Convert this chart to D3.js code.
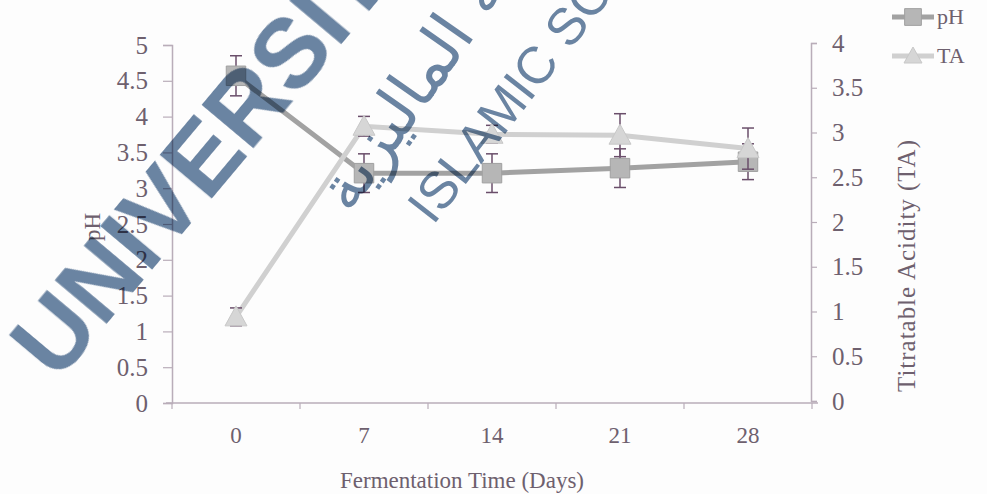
<!DOCTYPE html>
<html>
<head>
<meta charset="utf-8">
<script src="https://cdn.jsdelivr.net/npm/d3@7"></script>
<style>
  html, body { margin: 0; padding: 0; background: #fdfdfd; }
  svg { display: block; }
</style>
</head>
<body>
<svg id="chart" width="987" height="494"></svg>
<script>
// ---- data ----
const days = ["0", "7", "14", "21", "28"];
const pHValues = [4.57, 3.21, 3.21, 3.28, 3.37];
const pHErrors = [0.28, 0.27, 0.27, 0.27, 0.25];
const taValues = [0.94, 3.07, 2.98, 2.97, 2.82];
const taErrors = [0.10, 0.11, 0.10, 0.24, 0.23];
const leftTicks = [0, 0.5, 1, 1.5, 2, 2.5, 3, 3.5, 4, 4.5, 5];
const rightTicks = [0, 0.5, 1, 1.5, 2, 2.5, 3, 3.5, 4];
const seriesNames = ["pH", "TA"];

const svg = d3.select("#chart");
const W = 987, H = 494;
svg.append("rect").attr("width", W).attr("height", H).attr("fill", "#fdfdfd");

const serif = "'Liberation Serif', 'Times New Roman', serif";
const axisColor = "#b9adb9";
const labelColor = "#6e606e";
const errColor = "#6a4e6a";

const x = d3.scaleBand().domain(days).range([172, 812]);
const yL = d3.scaleLinear().domain([0, 5]).range([403, 45]);
const yR = d3.scaleLinear().domain([0, 4]).range([401, 43]);

// ---- axes ----
const gx = svg.append("g").attr("transform", "translate(0,403)")
  .call(d3.axisBottom(x).tickSize(0).tickPadding(0));
gx.select(".domain").remove();
gx.selectAll(".tick text").attr("y", 24).attr("font-family", serif)
  .attr("font-size", 23).attr("fill", labelColor);
svg.append("line").attr("x1", 166).attr("x2", 818).attr("y1", 403).attr("y2", 403)
  .attr("stroke", axisColor).attr("stroke-width", 1.5);
const bounds = days.map(d => x(d)).concat([x.range()[1]]);
svg.selectAll(".xtick").data(bounds).join("line")
  .attr("x1", d => d).attr("x2", d => d).attr("y1", 403).attr("y2", 409)
  .attr("stroke", axisColor).attr("stroke-width", 1.2);

const gl = svg.append("g").attr("transform", "translate(172,0)")
  .call(d3.axisLeft(yL).tickValues(leftTicks).tickSize(9).tickPadding(15).tickFormat(d3.format("")));
gl.select(".domain").attr("stroke", axisColor).attr("stroke-width", 1.5);
gl.selectAll(".tick line").attr("stroke", axisColor).attr("stroke-width", 1.2);
gl.selectAll(".tick text").attr("font-family", serif).attr("font-size", 25).attr("fill", labelColor);

const gr = svg.append("g").attr("transform", "translate(811,0)")
  .call(d3.axisRight(yR).tickValues(rightTicks).tickSize(6).tickPadding(15).tickFormat(d3.format("")));
gr.select(".domain").attr("stroke", axisColor).attr("stroke-width", 1.5);
gr.selectAll(".tick line").attr("stroke", axisColor).attr("stroke-width", 1.2);
gr.selectAll(".tick text").attr("font-family", serif).attr("font-size", 25).attr("fill", labelColor);

// ---- titles ----
svg.append("text").attr("x", 462).attr("y", 488).attr("text-anchor", "middle")
  .attr("font-family", serif).attr("font-size", 23).attr("fill", labelColor)
  .text("Fermentation Time (Days)");
svg.append("text").attr("transform", "translate(100,227) rotate(-90)").attr("text-anchor", "middle")
  .attr("font-family", serif).attr("font-size", 23).attr("fill", labelColor).text("pH");
svg.append("text").attr("transform", "translate(915,266) rotate(-90)").attr("text-anchor", "middle")
  .attr("font-family", serif).attr("font-size", 25).attr("fill", labelColor)
  .attr("textLength", 252).attr("lengthAdjust", "spacing")
  .text("Titratable Acidity (TA)");

// ---- series ----
const cx = d => x(d) + x.bandwidth() / 2;
const pHData = days.map((d, i) => ({ d, v: pHValues[i], e: pHErrors[i] }));
const taData = days.map((d, i) => ({ d, v: taValues[i], e: taErrors[i] }));

function drawSeries(data, y, lineColor, markerFill, markerStroke, shape) {
  const g = svg.append("g");
  g.append("path").datum(data)
    .attr("d", d3.line().x(p => cx(p.d)).y(p => y(p.v)))
    .attr("fill", "none").attr("stroke", lineColor).attr("stroke-width", 5);
  const eb = g.selectAll(".eb").data(data).join("g");
  eb.append("line").attr("x1", p => cx(p.d)).attr("x2", p => cx(p.d))
    .attr("y1", p => y(p.v + p.e)).attr("y2", p => y(p.v - p.e))
    .attr("stroke", errColor).attr("stroke-width", 1.5);
  eb.append("line").attr("x1", p => cx(p.d) - 6).attr("x2", p => cx(p.d) + 6)
    .attr("y1", p => y(p.v + p.e)).attr("y2", p => y(p.v + p.e))
    .attr("stroke", errColor).attr("stroke-width", 1.5);
  eb.append("line").attr("x1", p => cx(p.d) - 6).attr("x2", p => cx(p.d) + 6)
    .attr("y1", p => y(p.v - p.e)).attr("y2", p => y(p.v - p.e))
    .attr("stroke", errColor).attr("stroke-width", 1.5);
  g.selectAll(".mk").data(data).join("path")
    .attr("transform", p => `translate(${cx(p.d)},${y(p.v)})`)
    .attr("d", shape)
    .attr("fill", markerFill).attr("stroke", markerStroke).attr("stroke-width", 1);
}
const squarePath = d3.symbol().type(d3.symbolSquare).size(380)();
const triPath = "M0,-11 L11,9 L-11,9 Z";
drawSeries(pHData, yL, "#a2a2a2", "#b6b6b6", "#a0a0a0", squarePath);
drawSeries(taData, yR, "#d0d0d0", "#d6d6d6", "#c8c8c8", triPath);

// ---- legend ----
const legend = svg.append("g");
const legendItems = [
  { name: seriesNames[0], y: 17, line: "#a2a2a2", fill: "#b6b6b6", stroke: "#a0a0a0", shape: d3.symbol().type(d3.symbolSquare).size(280)() },
  { name: seriesNames[1], y: 56, line: "#d0d0d0", fill: "#d6d6d6", stroke: "#c8c8c8", shape: "M0,-9 L9,7 L-9,7 Z" }
];
legendItems.forEach(it => {
  legend.append("line").attr("x1", 892).attr("x2", 934).attr("y1", it.y).attr("y2", it.y)
    .attr("stroke", it.line).attr("stroke-width", 5);
  legend.append("path").attr("transform", `translate(913,${it.y})`).attr("d", it.shape)
    .attr("fill", it.fill).attr("stroke", it.stroke);
  legend.append("text").attr("x", 937).attr("y", it.y + 7).attr("font-family", serif)
    .attr("font-size", 22).attr("fill", labelColor).text(it.name);
});

// ---- watermark (partly outside the picture, as in the reference) ----
const wm = svg.append("g").attr("fill", "#46668c").attr("opacity", 0.8)
  .style("mix-blend-mode", "multiply");
wm.append("text").attr("transform", "translate(57,383) rotate(-50)")
  .attr("font-family", "'Liberation Sans', Arial, sans-serif").attr("font-weight", "bold")
  .attr("font-size", 98).text("UNIVERSITI");
wm.append("text").attr("transform", "translate(433,226) rotate(-52)")
  .attr("font-family", "'Liberation Sans', Arial, sans-serif")
  .attr("font-size", 52).text("ISLAMIC SCIENCE");
wm.append("text").attr("transform", "translate(350,215) rotate(-55)")
  .attr("font-family", "'DejaVu Sans', sans-serif").attr("direction", "rtl")
  .attr("text-anchor", "end").attr("font-size", 64)
  .text("الإسلامية الماليزية");
</script>
</body>
</html>
